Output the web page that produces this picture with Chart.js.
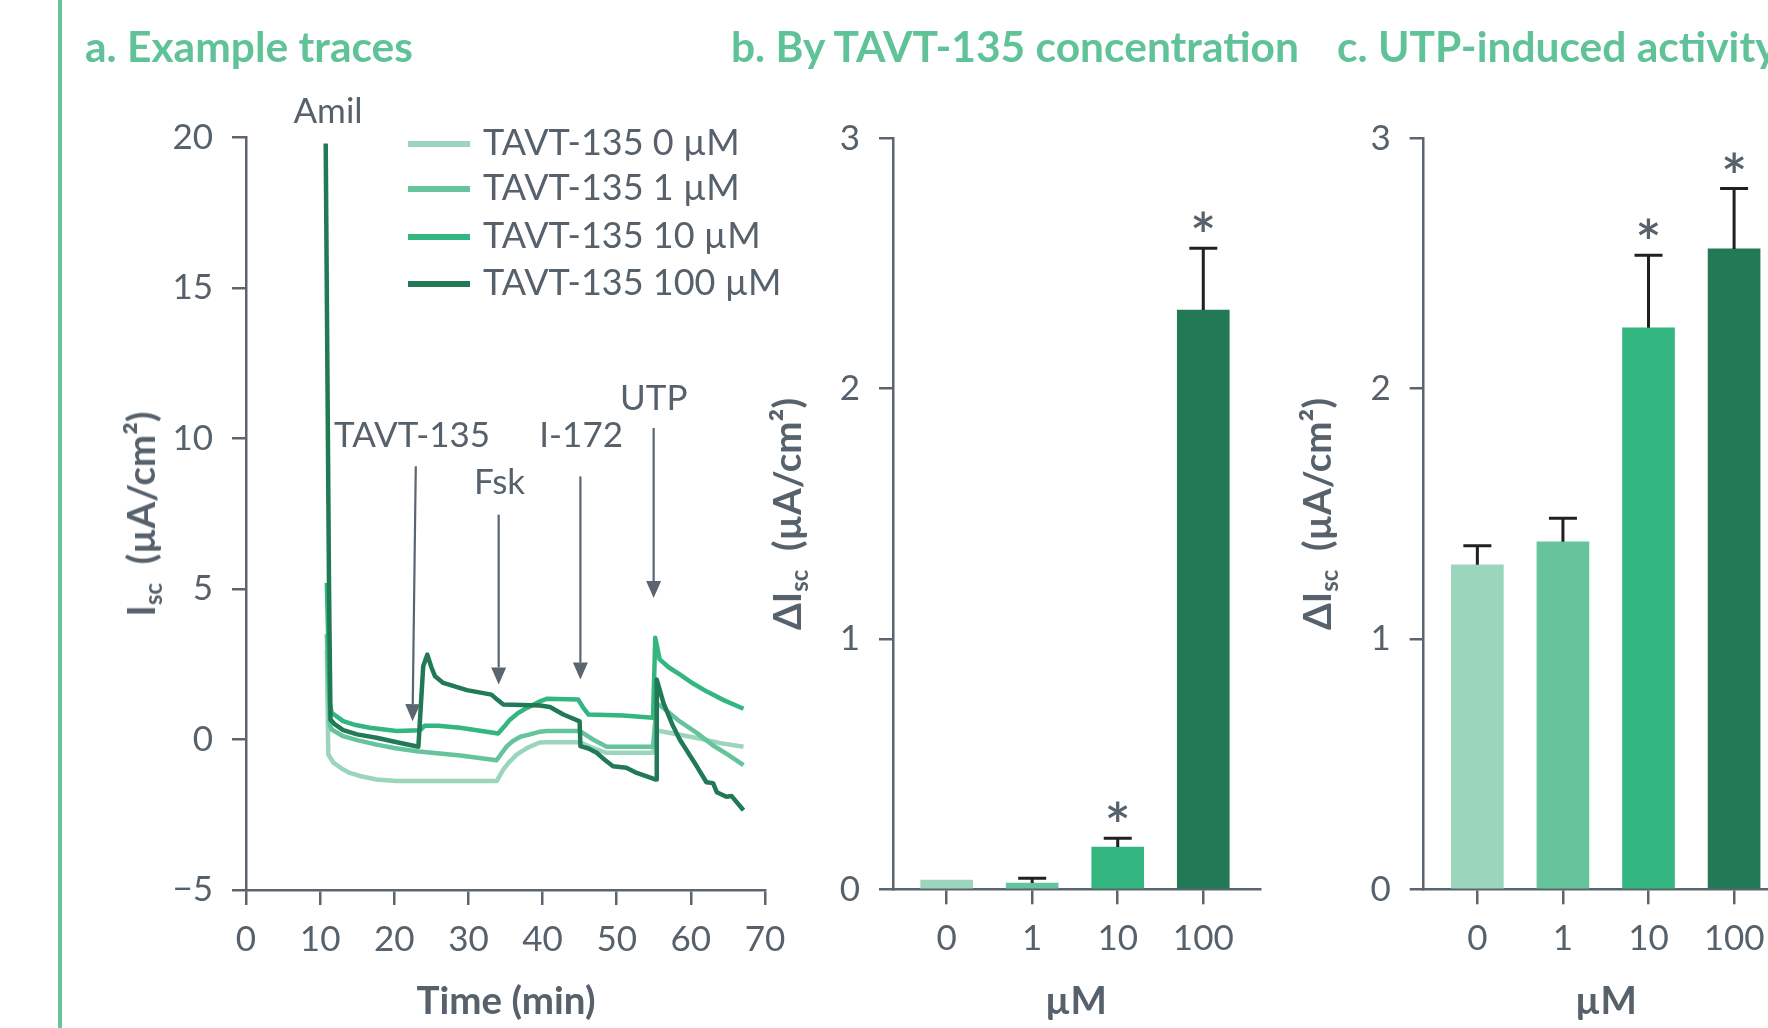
<!DOCTYPE html>
<html><head><meta charset="utf-8">
<script src="https://cdn.jsdelivr.net/npm/chart.js@4"></script>
<style>
html,body{margin:0;padding:0;background:#fff;width:1768px;height:1028px;overflow:hidden;}
body{position:relative;font-family:Lato,"Noto Sans",sans-serif;color:#56616b;}
canvas{position:absolute;top:0;}
.t{position:absolute;white-space:nowrap;line-height:1;}
.title{font-weight:700;font-size:42.5px;color:#60c297;}
.ytitle{font-weight:700;font-size:38.5px;transform:translate(-50%,-50%) rotate(-90deg);}
.xtitle{font-weight:700;font-size:38.5px;transform:translateX(-50%);}
.ytitle sub{font-size:0.62em;vertical-align:-0.3em;}
.leg{position:absolute;height:6px;width:62px;left:408px;}
.legt{position:absolute;left:483px;font-size:36px;line-height:1;white-space:nowrap;}
</style></head><body>
<div style="position:absolute;left:58px;top:0;width:4px;height:1028px;background:#66c49b"></div>
<canvas id="ca" width="800" height="1028" style="left:0"></canvas>
<canvas id="cb" width="600" height="1028" style="left:700px"></canvas>
<canvas id="cc" width="600" height="1028" style="left:1230px"></canvas>

<div class="t title" style="left:85px;top:25px">a. Example traces</div>
<div class="t title" style="left:731px;top:25px">b. By TAVT-135 concentration</div>
<div class="t title" style="left:1337px;top:25px">c. UTP-induced activity</div>

<div class="t ytitle" style="left:143px;top:514px">I<sub>sc</sub>&nbsp;&nbsp;(µA/cm²)</div>
<div class="t ytitle" style="left:789px;top:514px">ΔI<sub>sc</sub>&nbsp;&nbsp;(µA/cm²)</div>
<div class="t ytitle" style="left:1319px;top:514px">ΔI<sub>sc</sub>&nbsp;&nbsp;(µA/cm²)</div>

<div class="t xtitle" style="left:506px;top:980px">Time (min)</div>
<div class="t xtitle" style="left:1076px;top:980px">µM</div>
<div class="t xtitle" style="left:1606px;top:980px">µM</div>

<div id="legend"></div>

<script>
// ---------- data: panel a (example traces) ----------
const seriesNames = ['TAVT-135 0 µM', 'TAVT-135 1 µM', 'TAVT-135 10 µM', 'TAVT-135 100 µM'];
const seriesColors = ['#9bd5bb', '#65c49b', '#33b67f', '#217955'];

const t0 = [10.9, 11.1, 11.8, 13.0, 14.0, 15.5, 17.6, 20.3, 33.8, 34.7, 35.5, 36.5, 38.0, 39.6, 40.5, 45.05, 46.5, 48.6, 54.9, 55.4, 58.0, 60.8, 64.0, 67.1];
const v0 = [3.0, -0.5, -0.77, -0.98, -1.11, -1.22, -1.33, -1.38, -1.38, -1.0, -0.75, -0.5, -0.27, -0.1, -0.09, -0.09, -0.25, -0.44, -0.44, 0.3, 0.18, 0.05, -0.12, -0.24];

const t1 = [10.9, 11.3, 11.55, 13.1, 15.0, 17.6, 20.0, 23.0, 28.9, 33.8, 34.5, 35.2, 36.0, 37.0, 38.3, 39.65, 40.55, 45.05, 46.8, 48.65, 54.9, 55.4, 56.3, 58.5, 60.8, 63.0, 65.0, 67.1];
const v1 = [3.5, 0.5, 0.33, 0.11, -0.02, -0.17, -0.28, -0.39, -0.53, -0.69, -0.45, -0.22, -0.05, 0.09, 0.17, 0.26, 0.28, 0.28, 0.0, -0.24, -0.24, 1.2, 1.05, 0.6, 0.22, -0.2, -0.5, -0.85];

const t10 = [10.9, 11.3, 11.55, 13.1, 14.8, 16.7, 20.3, 23.5, 24.1, 25.9, 28.9, 34.0, 34.8, 35.6, 36.7, 37.9, 39.65, 40.55, 44.8, 45.5, 46.2, 50.9, 54.9, 55.2, 55.8, 57.0, 58.5, 60.3, 62.1, 64.5, 67.1];
const v10 = [5.2, 1.2, 0.89, 0.61, 0.48, 0.39, 0.28, 0.31, 0.46, 0.46, 0.39, 0.2, 0.42, 0.66, 0.88, 1.05, 1.27, 1.35, 1.33, 1.05, 0.83, 0.8, 0.72, 3.38, 2.66, 2.4, 2.16, 1.86, 1.6, 1.3, 1.02];

const t100 = [10.75, 11.2, 11.4, 12.0, 13.1, 15.0, 17.6, 20.5, 23.25, 23.9, 24.45, 25.0, 25.5, 26.6, 29.8, 33.1, 34.0, 34.7, 39.65, 41.0, 42.8, 45.0, 45.1, 46.2, 47.3, 48.5, 49.5, 51.3, 52.7, 55.3, 55.4, 56.3, 57.5, 58.5, 60.8, 62.1, 63.0, 63.5, 64.8, 65.5, 67.1];
const v100 = [19.8, 5.0, 0.66, 0.5, 0.31, 0.17, 0.06, -0.1, -0.24, 2.43, 2.82, 2.4, 2.1, 1.88, 1.64, 1.49, 1.3, 1.16, 1.13, 1.08, 0.83, 0.6, -0.22, -0.3, -0.44, -0.7, -0.89, -0.94, -1.11, -1.33, 1.99, 1.22, 0.5, 0.0, -0.89, -1.42, -1.45, -1.75, -1.9, -1.88, -2.35];

const traceTimes = [t0, t1, t10, t100];
const traceValues = [v0, v1, v10, v100];

// additions (arrows): label, time of arrow, arrow top/tip value, label position
const addNames = ['TAVT-135', 'Fsk', 'I-172', 'UTP'];
const addTopT = [22.9, 34.08, 45.1, 54.98];
const addTipT = [22.46, 34.08, 45.1, 54.98];
const addTopV = [9.08, 7.47, 8.74, 10.35];
const addTipV = [0.61, 1.83, 1.99, 4.7];
const addLabelT = [22.4, 34.2, 45.2, 55.0];
const addLabelV = [9.73, 8.14, 9.73, 10.96];
const amilLabel = 'Amil', amilT = 11.06, amilV = 20.48;

const xTicksA = [0, 10, 20, 30, 40, 50, 60, 70];
const yTicksA = [-5, 0, 5, 10, 15, 20];

// ---------- data: panels b and c ----------
const concentrations = ['0', '1', '10', '100'];
const barColors = ['#9bd5bb', '#65c49b', '#33b67f', '#217955'];
const deltaB = [0.037, 0.025, 0.169, 2.314];
const errTopB = [null, 0.044, 0.204, 2.561];
const sigB = [false, false, true, true];
const deltaC = [1.296, 1.388, 2.243, 2.558];
const errTopC = [1.372, 1.482, 2.533, 2.799];
const sigC = [false, false, true, true];
const yTicksBar = [0, 1, 2, 3];

// ---------- styling ----------
const GRAY = '#56616b';
const AXIS = '#5a6570';
Chart.defaults.font.family = 'Lato, "Noto Sans", sans-serif';
Chart.defaults.font.size = 35;
Chart.defaults.color = GRAY;

function gridStyle(len) {
  return { display: true, drawOnChartArea: false, drawTicks: true, offset: false, tickLength: len, color: AXIS, lineWidth: 2.5 };
}
const borderStyle = { display: true, color: AXIS, width: 2.5 };
const minusFmt = v => (v < 0 ? '\u2212' + Math.abs(v) : String(v));

// legend (HTML)
const legRows = [143.5, 188.5, 237, 284];
const legend = document.getElementById('legend');
seriesNames.forEach((n, i) => {
  const l = document.createElement('div');
  l.className = 'leg'; l.style.top = (legRows[i] - 3) + 'px'; l.style.background = seriesColors[i];
  legend.appendChild(l);
  const t = document.createElement('div');
  t.className = 'legt'; t.textContent = n; t.style.top = (legRows[i] - 21) + 'px';
  legend.appendChild(t);
});

// annotation plugin for panel a
const annotPlugin = {
  id: 'annot',
  afterDraw(chart) {
    const { ctx, scales: { x, y } } = chart;
    ctx.save();
    ctx.font = '35px Lato, "Noto Sans", sans-serif';
    ctx.fillStyle = GRAY; ctx.strokeStyle = AXIS;
    ctx.textAlign = 'center'; ctx.textBaseline = 'alphabetic';
    ctx.fillText(amilLabel, x.getPixelForValue(amilT), y.getPixelForValue(amilV));
    addNames.forEach((n, i) => {
      ctx.fillText(n, x.getPixelForValue(addLabelT[i]), y.getPixelForValue(addLabelV[i]));
      const x1 = x.getPixelForValue(addTopT[i]), y1 = y.getPixelForValue(addTopV[i]);
      const x2 = x.getPixelForValue(addTipT[i]), y2 = y.getPixelForValue(addTipV[i]);
      const ang = Math.atan2(y2 - y1, x2 - x1);
      const hl = 17, hw = 7.5;
      const bx = x2 - hl * Math.cos(ang), by = y2 - hl * Math.sin(ang);
      ctx.lineWidth = 2.2;
      ctx.beginPath(); ctx.moveTo(x1, y1); ctx.lineTo(bx, by); ctx.stroke();
      ctx.beginPath();
      ctx.moveTo(x2, y2);
      ctx.lineTo(bx + hw * Math.sin(ang), by - hw * Math.cos(ang));
      ctx.lineTo(bx - hw * Math.sin(ang), by + hw * Math.cos(ang));
      ctx.closePath(); ctx.fillStyle = AXIS; ctx.fill();
      ctx.fillStyle = GRAY;
    });
    ctx.restore();
  }
};

new Chart(document.getElementById('ca'), {
  type: 'line',
  data: {
    datasets: traceTimes.map((ts, i) => ({
      label: seriesNames[i],
      data: ts.map((t, k) => ({ x: t, y: traceValues[i][k] })),
      borderColor: seriesColors[i],
      backgroundColor: seriesColors[i],
      borderWidth: 4.5,
      pointRadius: 0,
      tension: 0,
      fill: false,
      borderJoinStyle: 'round',
      order: 3 - i
    }))
  },
  options: {
    responsive: false, animation: false,
    layout: { padding: { top: 137.5, right: 35, left: 0, bottom: 0 } },
    plugins: { legend: { display: false }, tooltip: { enabled: false } },
    scales: {
      x: {
        type: 'linear', min: 0, max: 70,
        grid: gridStyle(15), border: borderStyle,
        afterBuildTicks(s) { s.ticks = xTicksA.map(v => ({ value: v })); },
        ticks: { padding: 14, autoSkip: false, maxRotation: 0 },
        afterFit(s) { s.height = 1028 - 890; }
      },
      y: {
        type: 'linear', min: -5, max: 20,
        grid: gridStyle(14), border: borderStyle,
        afterBuildTicks(s) { s.ticks = yTicksA.map(v => ({ value: v })); },
        ticks: { padding: 19, callback: minusFmt },
        afterFit(s) { s.width = 246; }
      }
    }
  },
  plugins: [annotPlugin]
});

// error bars + stars
function errPlugin(errTop, sig) {
  return {
    id: 'err',
    afterDatasetsDraw(chart) {
      const { ctx, scales: { x, y } } = chart;
      const meta = chart.getDatasetMeta(0);
      ctx.save();
      meta.data.forEach((bar, i) => {
        const cx = x.getPixelForValue(i);
        const top = bar.y;
        if (errTop[i] != null) {
          const ey = y.getPixelForValue(errTop[i]);
          ctx.strokeStyle = '#231f20'; ctx.lineWidth = 3;
          ctx.beginPath(); ctx.moveTo(cx, top); ctx.lineTo(cx, ey);
          ctx.moveTo(cx - 14, ey); ctx.lineTo(cx + 14, ey); ctx.stroke();
          if (sig[i]) {
            ctx.fillStyle = GRAY; ctx.font = '600 62px Lato, "Noto Sans", sans-serif';
            ctx.textAlign = 'center'; ctx.textBaseline = 'alphabetic';
            ctx.fillText('*', cx, ey + 10);
          }
        }
      });
      ctx.restore();
    }
  };
}

function barChart(id, values, errTop, sig, yWidth, padRight, xMax) {
  return new Chart(document.getElementById(id), {
    type: 'bar',
    data: {
      datasets: [{
        data: values.map((v, i) => ({ x: i, y: v })),
        backgroundColor: barColors,
        borderWidth: 0,
        barThickness: 52
      }]
    },
    options: {
      responsive: false, animation: false,
      layout: { padding: { top: 138.3, right: padRight, left: 0, bottom: 0 } },
      plugins: { legend: { display: false }, tooltip: { enabled: false } },
      scales: {
        x: {
          type: 'linear', min: -0.627, max: xMax, offset: false,
          grid: gridStyle(15), border: borderStyle,
          afterBuildTicks(s) { s.ticks = concentrations.map((c, i) => ({ value: i })); },
          ticks: { padding: 13, autoSkip: false, maxRotation: 0, callback: v => concentrations[v] },
          afterFit(s) { s.height = 1028 - 889.3; }
        },
        y: {
          type: 'linear', min: 0, max: 3,
          grid: gridStyle(14), border: borderStyle,
          afterBuildTicks(s) { s.ticks = yTicksBar.map(v => ({ value: v })); },
          ticks: { padding: 19 },
          afterFit(s) { s.width = yWidth; }
        }
      }
    },
    plugins: [errPlugin(errTop, sig)]
  });
}

barChart('cb', deltaB, errTopB, sigB, 193, 40, 3.663);
barChart('cc', deltaC, errTopC, sigC, 193.7, 42, 3.63);
</script>
</body></html>
